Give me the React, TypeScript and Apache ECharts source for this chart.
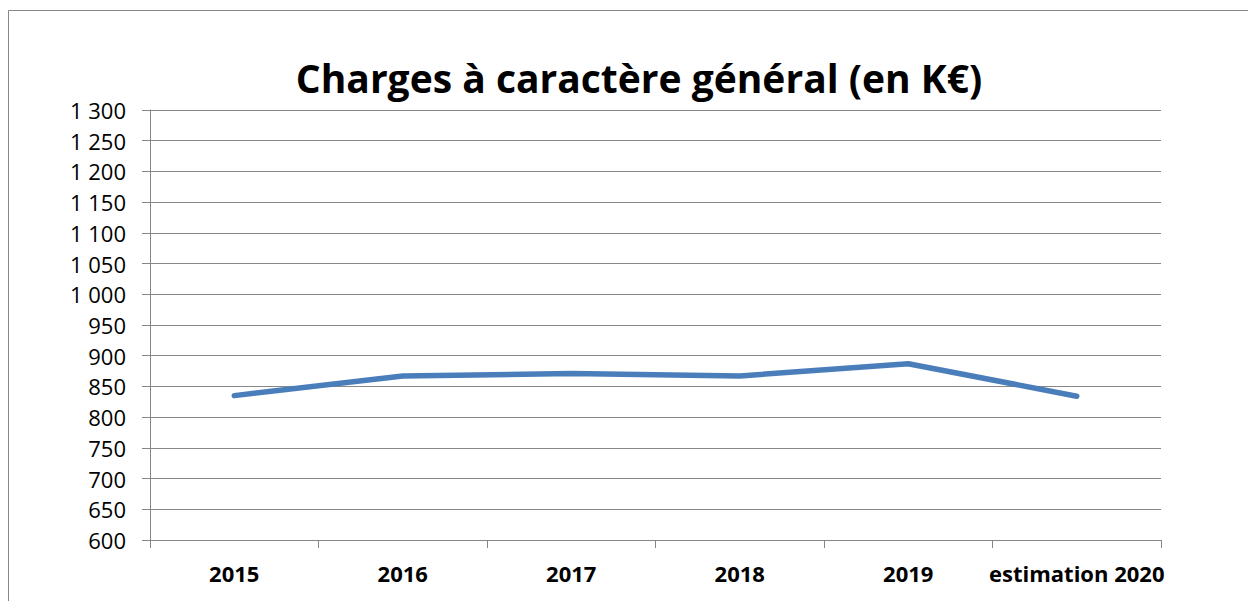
import React, { useEffect, useRef } from "react";
import * as echarts from "echarts";

const categories = ["2015", "2016", "2017", "2018", "2019", "estimation 2020"];
const charges = [835, 867, 871, 867, 887, 834];
const titleText = "Charges à caractère général (en K€)";

function fmt(v: number): string {
  const s = String(v);
  if (s.length > 3) return s.slice(0, s.length - 3) + " " + s.slice(s.length - 3);
  return s;
}

export default function App() {
  const ref = useRef<HTMLDivElement>(null);
  useEffect(() => {
    if (!ref.current) return;
    const chart = echarts.init(ref.current, null, { renderer: "svg" });
    const grey = "#878787";
    chart.setOption({
      animation: false,
      backgroundColor: "#ffffff",
      title: {
        text: titleText,
        left: 634,
        top: 53,
        textAlign: "center",
        textStyle: { fontFamily: "Open Sans", fontWeight: "bold", fontSize: 39, color: "#000" },
      },
      graphic: [
        {
          type: "rect",
          shape: { x: 8.5, y: 10.5, width: 1260, height: 620 },
          style: { fill: "none", stroke: grey, lineWidth: 1 },
          silent: true,
        },
      ],
      grid: { left: 150, right: 87, top: 110, bottom: 61 },
      xAxis: {
        type: "category",
        data: categories,
        boundaryGap: true,
        axisLine: { lineStyle: { color: grey, width: 1 } },
        axisTick: { show: true, length: 8, lineStyle: { color: grey }, alignWithLabel: false },
        axisLabel: { margin: 22, fontFamily: "Open Sans", fontWeight: "bold", fontSize: 22, color: "#000", interval: 0 },
        splitLine: { show: false },
      },
      yAxis: {
        type: "value",
        min: 600,
        max: 1300,
        interval: 50,
        axisLine: { show: true, lineStyle: { color: grey, width: 1 } },
        axisTick: { show: true, length: 8, lineStyle: { color: grey } },
        axisLabel: { margin: 24, fontFamily: "Open Sans", fontSize: 22, color: "#000", formatter: (v: number) => fmt(v) },
        splitLine: { show: true, lineStyle: { color: grey, width: 1 } },
      },
      series: [
        {
          type: "line",
          data: charges,
          symbol: "none",
          lineStyle: { color: "#4a7ebb", width: 5.5, cap: "round", join: "round" },
        },
      ],
    });
    return () => chart.dispose();
  }, []);
  return <div ref={ref} style={{ position: "fixed", left: 0, top: 0, width: 1248, height: 601 }} />;
}
